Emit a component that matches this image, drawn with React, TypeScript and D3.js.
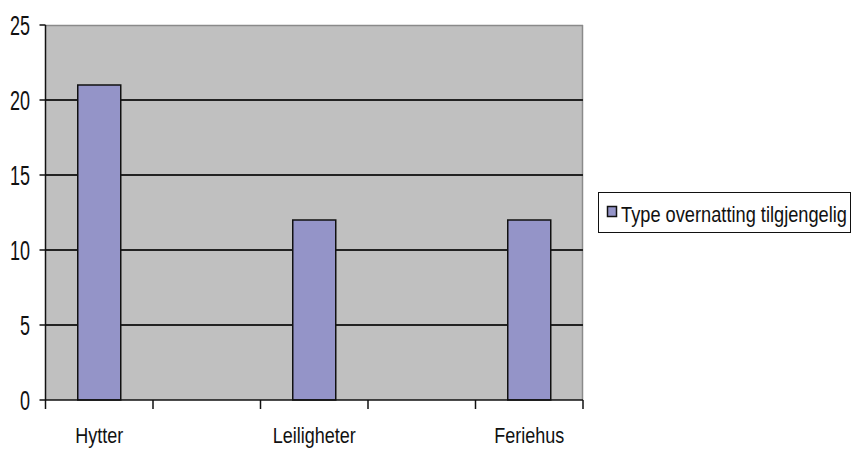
import React from "react";
import * as d3 from "d3";

const categories = ["Hytter", "", "Leiligheter", "", "Feriehus"];
const values: (number | null)[] = [21, null, 12, null, 12];
const yTicks = [0, 5, 10, 15, 20, 25];
const seriesName = "Type overnatting tilgjengelig";

export default function App() {
  const W = 853, H = 450;
  const left = 45.5, right = 583, top = 25, bottom = 400;
  const x = d3.scaleBand<number>().domain(categories.map((_, i) => i)).range([left, right]).paddingInner(0).paddingOuter(0);
  const y = d3.scaleLinear().domain([0, 25]).range([bottom, top]);
  const bw = x.bandwidth() / 2.5;
  const font = "'Liberation Sans', Arial, sans-serif";
  return (
    <svg width={W} height={H} style={{ position: "absolute", left: 0, top: 0, background: "#fff" }}>
      <rect x={left} y={top} width={right - left} height={bottom - top} fill="#C0C0C0" />
      <line x1={left} x2={right} y1={top + 0.5} y2={top + 0.5} stroke="#8a8a8a" strokeWidth={1.5} />
      <line x1={right - 0.5} x2={right - 0.5} y1={top} y2={bottom} stroke="#8a8a8a" strokeWidth={1.5} />
      {yTicks.filter(t => t > 0 && t < 25).map(t => (
        <line key={t} x1={left} x2={right} y1={y(t)} y2={y(t)} stroke="#222" strokeWidth={2} />
      ))}
      {values.map((v, i) => v == null ? null : (
        <rect key={i} x={(x(i) as number) + (x.bandwidth() - bw) / 2} y={y(v)} width={bw} height={y(0) - y(v)}
          fill="#9494C8" stroke="#111" strokeWidth={1.5} />
      ))}
      <line x1={left} x2={left} y1={top} y2={bottom} stroke="#111" strokeWidth={1.5} />
      <line x1={left} x2={right} y1={bottom} y2={bottom} stroke="#111" strokeWidth={1.5} />
      {yTicks.map(t => (
        <g key={t}>
          <line x1={left - 6} x2={left} y1={y(t)} y2={y(t)} stroke="#111" strokeWidth={1.5} />
          <text transform={`translate(30,${y(t) + 9.5}) scale(1,1.5)`} textAnchor="end" fontFamily={font} fontSize={18} fill="#111">{t}</text>
        </g>
      ))}
      {categories.map((_, i) => (
        <line key={i} x1={(x(i) as number)} x2={(x(i) as number)} y1={bottom} y2={bottom + 9} stroke="#111" strokeWidth={1.5} />
      ))}
      <line x1={right} x2={right} y1={bottom} y2={bottom + 9} stroke="#111" strokeWidth={1.5} />
      {categories.map((c, i) => c ? (
        <text key={i} transform={`translate(${(x(i) as number) + x.bandwidth() / 2},${443}) scale(1,1.25)`} textAnchor="middle" fontFamily={font} fontSize={18} fill="#111">{c}</text>
      ) : null)}
      <rect x={598.5} y={192.5} width={252} height={40} fill="#fff" stroke="#111" strokeWidth={1} />
      <rect x={607.5} y={206.5} width={9} height={10} fill="#9494C8" stroke="#111" strokeWidth={1.5} />
      <text transform={`translate(621,${222}) scale(1,1.3)`} fontFamily={font} fontSize={17.5} fill="#111" textLength={226} lengthAdjust="spacingAndGlyphs">{seriesName}</text>
    </svg>
  );
}
